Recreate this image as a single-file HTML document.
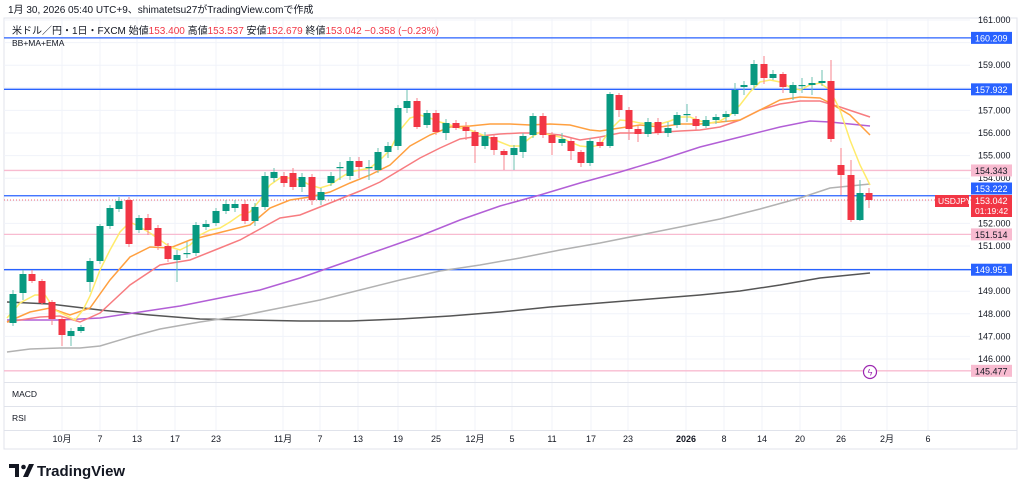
<!DOCTYPE html>
<html><head><meta charset="utf-8"><style>
body{margin:0;background:#fff;width:1024px;height:492px;overflow:hidden;font-family:"Liberation Sans","Noto Sans CJK JP",sans-serif}
svg{position:absolute;left:0;top:0}
</style></head><body>
<svg id="s" width="1024" height="492" xmlns="http://www.w3.org/2000/svg" font-family="Liberation Sans, Noto Sans CJK JP, sans-serif">
<text x="8" y="13" font-size="10" fill="#131722">1月 30, 2026 05:40 UTC+9、shimatetsu27がTradingView.comで作成</text>
<rect x="4" y="18" width="1013" height="431" fill="none" stroke="#e0e3eb"/>
<g id="grid" stroke="#f0f3fa" stroke-width="1"></g>
<g id="hl"></g>
<g id="ma" fill="none" stroke-width="1.5"></g>
<g id="cd"></g>
<text x="12" y="34" font-size="10" fill="#131722">米ドル／円・1日・FXCM 始値<tspan fill="#f23645">153.400</tspan> 高値<tspan fill="#f23645">153.537</tspan> 安値<tspan fill="#f23645">152.679</tspan> 終値<tspan fill="#f23645">153.042</tspan> <tspan fill="#f23645">−0.358 (−0.23%)</tspan></text>
<text x="12" y="46" font-size="8.5" fill="#131722">BB+MA+EMA</text>
<line x1="4" y1="382.5" x2="1017" y2="382.5" stroke="#e0e3eb"/>
<line x1="4" y1="406.5" x2="1017" y2="406.5" stroke="#e0e3eb"/>
<line x1="4" y1="430.5" x2="1017" y2="430.5" stroke="#e0e3eb"/>
<text x="12" y="397" font-size="8.5" fill="#131722">MACD</text>
<text x="12" y="421" font-size="8.5" fill="#131722">RSI</text>
<g id="ax" font-size="9" fill="#131722"></g>
<g id="xl" font-size="9" fill="#131722" text-anchor="middle"></g>
<circle cx="870" cy="372" r="6.5" fill="#fff" stroke="#9c27b0" stroke-width="1.2"/>
<text x="870" y="375.5" font-size="9" fill="#9c27b0" text-anchor="middle">ϟ</text>
<g transform="translate(9,462)">
<path d="M0 2h10v13h-4v-9h-6z M14 15l6-13h5l-6 13z" fill="#131722"/>
<circle cx="14.5" cy="5" r="2.3" fill="#131722"/>
</g>
<text x="37" y="476" font-size="15" font-weight="bold" fill="#131722">TradingView</text>
</svg>
<script>
const NS="http://www.w3.org/2000/svg";
function el(p,t,a,txt){const e=document.createElementNS(NS,t);for(const k in a)e.setAttribute(k,a[k]);if(txt!==undefined)e.textContent=txt;document.getElementById(p).appendChild(e);return e;}
const Y=p=>20+(161-p)*22.6;
[62,100,137,175,216,283,320,358,398,436,475,512,552,591,628,686,724,762,800,841,887,928].forEach(x=>el('grid','line',{x1:x,y1:19,x2:x,y2:430}));
for(let p=146;p<=161;p++){el('grid','line',{x1:4,y1:Y(p),x2:970,y2:Y(p)});}
[161,159,157,156,155,154,152,151,149,148,147,146].forEach(p=>el('ax','text',{x:978,y:Y(p)+3},p.toFixed(3)));
[160.209,157.932,153.222,149.951].forEach(p=>el('hl','line',{x1:4,y1:Y(p),x2:971,y2:Y(p),stroke:'#2962ff','stroke-width':1.3}));
[154.343,151.514,145.477].forEach(p=>el('hl','line',{x1:4,y1:Y(p),x2:971,y2:Y(p),stroke:'#f8bbd0','stroke-width':1.3}));
el('hl','line',{x1:4,y1:200,x2:971,y2:200,stroke:'#f23645','stroke-width':0.7,'stroke-dasharray':'1,2'});
function lab(p,bg,fg,yc){const y=yc||Y(p);el('ax','rect',{x:971,y:y-6,width:41,height:12,fill:bg});el('ax','text',{x:975,y:y+3.5,fill:fg},p.toFixed(3));}
lab(160.209,'#2962ff','#fff');lab(157.932,'#2962ff','#fff');lab(149.951,'#2962ff','#fff');
lab(154.343,'#f8bbd0','#131722');lab(151.514,'#f8bbd0','#131722');lab(145.477,'#f8bbd0','#131722');
lab(153.222,'#2962ff','#fff',188.5);
el('ax','rect',{x:971,y:195,width:41,height:22,fill:'#f23645'});
el('ax','text',{x:975,y:204,fill:'#fff'},'153.042');
el('ax','text',{x:975,y:214,fill:'#fff','font-size':8.5},'01:19:42');
el('ax','rect',{x:935,y:195,width:34,height:12,fill:'#f23645'});
el('ax','text',{x:938,y:204,fill:'#fff','font-size':8.5},'USDJPY');
[[62,'10月'],[100,'7'],[137,'13'],[175,'17'],[216,'23'],[283,'11月'],[320,'7'],[358,'13'],[398,'19'],[436,'25'],[475,'12月'],[512,'5'],[552,'11'],[591,'17'],[628,'23'],[686,'2026'],[724,'8'],[762,'14'],[800,'20'],[841,'26'],[887,'2月'],[928,'6']].forEach(([x,t])=>{const e=el('xl','text',{x:x,y:442},t);if(t==='2026')e.setAttribute('font-weight','bold');});
const L={
y:[[7,318],[20,303],[35,295],[45,295],[55,310],[65,315],[75,320],[83,310],[90,296],[100,270],[110,250],[120,232],[130,222],[140,227],[150,233],[160,240],[170,247],[180,250],[190,245],[200,235],[210,230],[220,228],[230,222],[240,215],[250,212],[260,200],[270,185],[280,178],[290,178],[300,180],[310,185],[320,188],[330,185],[340,178],[350,172],[360,170],[370,168],[380,160],[390,150],[400,130],[410,118],[420,115],[430,118],[440,122],[450,125],[460,128],[470,130],[480,134],[490,138],[500,142],[510,146],[520,146],[530,138],[540,132],[550,135],[560,137],[570,142],[580,146],[590,147],[600,145],[610,130],[620,120],[630,121],[640,123],[650,124],[660,124],[670,121],[680,117],[690,117],[700,121],[710,123],[720,121],[730,115],[740,105],[750,92],[760,82],[770,80],[780,82],[790,87],[800,90],[810,85],[820,83],[830,90],[840,110],[850,140],[860,165],[870,185]],
o:[[7,322],[30,312],[50,308],[70,315],[90,308],[110,280],[130,257],[150,247],[170,248],[190,240],[210,235],[230,230],[250,225],[270,208],[290,200],[310,197],[330,192],[350,183],[370,175],[390,165],[410,146],[430,135],[450,127],[470,126],[490,124],[510,124],[530,125],[550,124],[570,125],[590,130],[600,131],[620,128],[640,125],[660,127],[680,124],[700,124],[720,122],[740,120],[760,110],[780,100],[800,97],[820,98],[830,103],[850,115],[870,135]],
r:[[7,322],[40,317],[60,316],[80,322],[100,313],[130,285],[160,265],[190,260],[220,248],[240,240],[260,229],[280,218],[300,215],[330,203],[360,191],[380,182],[400,170],[420,158],[440,148],[460,139],[480,136],[500,134],[520,133],[540,133],[560,135],[580,140],[600,137],[620,133],[650,133],[680,131],[700,130],[720,127],[740,120],[760,110],[780,104],[800,101],[820,101],[840,107],[870,117]],
p:[[7,320],[60,320],[100,318],[140,312],[180,306],[220,298],[260,290],[300,278],[340,264],[380,250],[420,236],[460,220],[500,206],[540,195],[580,183],[620,172],[660,160],[700,147],[740,137],[780,127],[810,121],[830,122],[870,126]],
g:[[7,352],[30,349],[60,348],[80,348],[100,346],[130,337],[160,329],[200,322],[240,316],[280,308],[320,300],[360,290],[400,280],[440,271],[480,265],[520,258],[560,250],[600,243],[640,235],[680,227],[720,219],[760,209],[800,198],[830,188],[870,184]],
d:[[7,302],[50,304],[100,310],[150,315],[200,319],[250,320],[300,321],[350,321],[400,319],[450,316],[500,312],[550,307],[600,303],[650,299],[700,295],[740,291],[780,285],[820,278],[870,273]]};
const C={d:'#555',g:'#b2b2b2',p:'#b25fd6',r:'#f77c80',o:'#ffa040',y:'#ffeb6b'};
['d','g','p','r','o','y'].forEach(k=>el('ma','polyline',{points:L[k].map(a=>a.join(',')).join(' '),stroke:C[k]}));
const K=[[13,323,294,290,326],[23,293,274,270,300],[32,274,281,270,283],[42,281,303,279,305],[52,302,319,300,325],[62,319,335,317,346],[71,336,331,328,346],[81,331,327,325,333],[90,282,261,258,292],[100,261,226,224,264],[110,226,208,205,229],[119,209,201,197,212],[129,200,244,197,247],[139,230,218,215,233],[148,218,230,214,235],[158,228,246,225,250],[168,246,259,243,262],[177,260,255,250,282],[187,254,253,242,258],[196,253,225,222,256],[206,227,224,220,230],[216,223,211,208,226],[226,211,204,200,214],[235,208,204,200,212],[245,204,221,200,224],[255,221,207,203,226],[265,207,176,172,210],[274,178,172,168,182],[284,176,183,172,187],[293,173,187,168,190],[302,187,177,173,192],[312,177,200,174,205],[321,200,192,188,205],[331,183,176,172,186],[340,167,167,162,180],[350,176,161,157,180],[359,161,167,157,178],[369,167,167,160,180],[378,170,152,148,173],[388,152,146,142,158],[398,146,108,105,150],[407,108,101,90,113],[417,101,127,98,129],[427,125,113,110,128],[436,113,132,110,135],[446,133,123,119,140],[456,123,128,120,130],[466,127,131,122,140],[475,132,146,130,163],[485,146,136,132,149],[494,137,150,134,155],[504,151,155,149,170],[514,155,148,145,170],[523,152,136,133,158],[533,135,116,113,138],[543,116,135,113,138],[552,135,143,132,155],[562,143,139,133,146],[571,141,151,138,160],[581,152,163,150,167],[590,163,141,138,166],[600,142,146,138,148],[610,146,94,92,148],[619,95,110,93,117],[629,110,129,107,140],[638,129,134,126,142],[648,134,122,118,137],[658,122,133,118,135],[668,133,128,122,137],[677,125,115,112,128],[687,114,114,104,122],[696,119,126,116,130],[706,126,120,116,128],[716,120,117,114,124],[726,117,114,111,122],[735,114,90,83,116],[744,87,85,81,95],[754,85,64,60,90],[764,64,78,56,84],[773,78,74,70,80],[783,74,87,72,93],[793,93,85,82,100],[802,85,85,78,93],[812,85,83,77,95],[822,83,81,70,86],[831,81,139,60,142],[841,165,175,148,195],[851,175,220,160,222],[860,220,193,180,221],[869,193,200,188,208]];
K.forEach(([x,o,c,h,l])=>{const up=c<=o;const col=up?'#089981':'#f23645';
el('cd','line',{x1:x,y1:h,x2:x,y2:l,stroke:up?'#6cc2b2':'#f7838c','stroke-width':1});
const t=Math.min(o,c),b=Math.max(o,c);el('cd','rect',{x:x-3.5,y:t,width:7,height:Math.max(b-t,1.2),fill:col});});
</script>
</body></html>
